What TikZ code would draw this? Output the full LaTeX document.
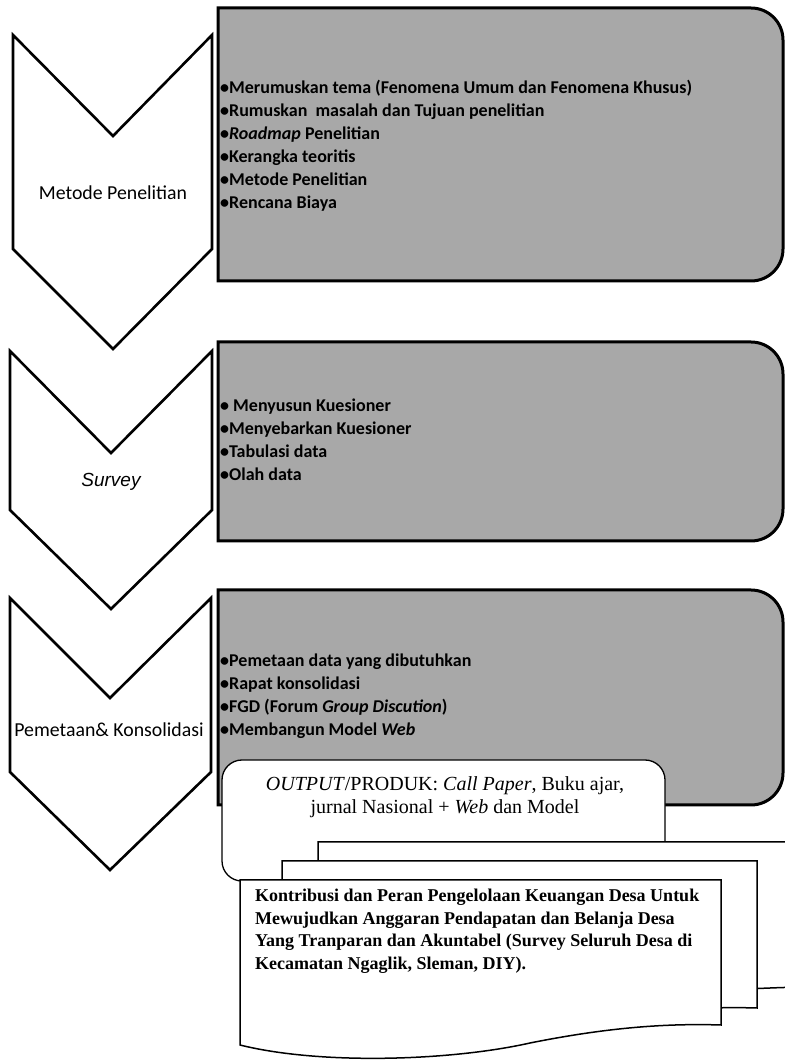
\documentclass[tikz,border=0pt]{standalone}
\usepackage{fontspec}
\setmainfont{Liberation Serif}
\newfontfamily\calibrifont{Carlito}
\newfontfamily\arialfont{Liberation Sans}

\begin{document}
\begin{tikzpicture}[x=1pt, y=1pt, line join=miter,
  chevron/.style={draw=black, line width=2.6pt, fill=white},
  panel/.style={draw=black, line width=3pt, fill=black!34},
  paneltext/.style={anchor=west, inner sep=0pt, align=left, font=\calibrifont\bfseries\fontsize{18}{23}\selectfont},
  chevtext/.style={inner sep=0pt, font=\calibrifont\fontsize{19.8}{22}\selectfont},
  outbox/.style={draw=black, line width=1.3pt, fill=white, rounded corners=20pt},
  doc/.style={draw=black, line width=1.5pt, fill=white}]
\useasboundingbox (0,0) rectangle (785,1061);

\draw[chevron] (13,1026) -- (113,925) -- (212,1026) -- (212,812) -- (113,712) -- (13,812) -- cycle;
\draw[chevron] (10,710) -- (111,608) -- (212,710) -- (212,551) -- (111,452) -- (10,551) -- cycle;
\draw[chevron] (10,463) -- (110,363) -- (211,463) -- (211,289) -- (110,191) -- (10,289) -- cycle;

\node[chevtext] (metode) at (113,868) {Metode Penelitian};
\node[inner sep=0pt, font=\arialfont\itshape\fontsize{19}{22}\selectfont] (survey) at (111,579) {Survey};
\node[chevtext] (pemetaan) at (109,331) {Pemetaan\& Konsolidasi};

\draw[panel] (218,1053) -- (751,1053) arc[start angle=90, end angle=0, radius=32] -- (783,812) arc[start angle=0, end angle=-90, radius=32] -- (218,780) -- cycle;
\draw[panel] (218,719) -- (751,719) arc[start angle=90, end angle=0, radius=32] -- (783,552) arc[start angle=0, end angle=-90, radius=32] -- (218,520) -- cycle;
\draw[panel] (218,471) -- (751,471) arc[start angle=90, end angle=0, radius=32] -- (783,288) arc[start angle=0, end angle=-90, radius=32] -- (218,256) -- cycle;

\node[paneltext] (tahap1) at (220,915) {•Merumuskan tema (Fenomena Umum dan Fenomena Khusus)\\
  •Rumuskan\ \ masalah dan Tujuan penelitian\\
  •\textit{Roadmap} Penelitian\\
  •Kerangka teoritis\\
  •Metode Penelitian\\
  •Rencana Biaya};
\node[paneltext] (tahap2) at (220,621) {• Menyusun Kuesioner\\
  •Menyebarkan Kuesioner\\
  •Tabulasi data\\
  •Olah data};
\node[paneltext] (tahap3) at (220,365) {•Pemetaan data yang dibutuhkan\\
  •Rapat konsolidasi\\
  •FGD (Forum \textit{Group Discution})\\
  •Membangun Model \textit{Web}};

\draw[outbox] (222,180) rectangle (665,301);
\node[inner sep=0pt, align=center, font=\fontsize{20}{23}\selectfont] (produk) at (445,264) {\textit{OUTPUT}/PRODUK: \textit{Call Paper}, Buku ajar,\\
  jurnal Nasional + \textit{Web} dan Model};

\draw[doc] (318,219) -- (800,219) -- (800,74) .. controls (730,72) and (660,68) .. (590,54) .. controls (500,36) and (400,32) .. (318,50) -- cycle;
\draw[doc] (282,200) -- (757,200) -- (757,53) .. controls (690,55) and (620,48) .. (550,34) .. controls (470,16) and (360,12) .. (282,30) -- cycle;
\draw[doc] (240,181) -- (721,181) -- (721,36) .. controls (660,38) and (600,32) .. (530,18) .. controls (450,0) and (320,-4) .. (240,16) -- cycle;

\node[anchor=west, inner sep=0pt, align=left, font=\bfseries\fontsize{18}{22.5}\selectfont] (judul) at (255,130) {Kontribusi dan Peran Pengelolaan Keuangan Desa Untuk\\
  Mewujudkan Anggaran Pendapatan dan Belanja Desa\\
  Yang Tranparan dan Akuntabel (Survey Seluruh Desa di\\
  Kecamatan Ngaglik, Sleman, DIY).};
\end{tikzpicture}
\end{document}
